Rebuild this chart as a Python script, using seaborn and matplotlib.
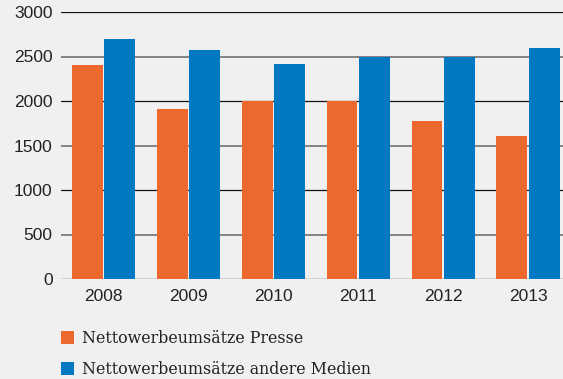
import matplotlib
matplotlib.use("Agg")
import matplotlib.pyplot as plt
from matplotlib.patches import Patch
import seaborn as sns
import pandas as pd

years = ["2008", "2009", "2010", "2011", "2012", "2013"]
presse = [2400, 1910, 2000, 2000, 1780, 1610]
andere = [2700, 2570, 2420, 2500, 2500, 2590]
series_names = ["Nettowerbeumsätze Presse", "Nettowerbeumsätze andere Medien"]
y_ticks = [0, 500, 1000, 1500, 2000, 2500, 3000]

colors = ["#ec682c", "#0079c2"]
bg = "#f0f0f0"

df = pd.DataFrame({
    "Jahr": years * 2,
    "Wert": presse + andere,
    "Serie": [series_names[0]] * len(years) + [series_names[1]] * len(years),
})

sns.set_theme(style="white")
plt.rcParams["font.family"] = ["Liberation Sans", "DejaVu Sans"]

fig = plt.figure(figsize=(5.63, 3.79), dpi=100, facecolor=bg)
ax = fig.add_axes([61 / 563, 100 / 379, 502 / 563, 267 / 379])
ax.set_facecolor(bg)

# horizontal guides: dark at thousands, grey at the half steps
for v in y_ticks:
    if v % 1000 == 0:
        ax.axhline(v, color="#111111", lw=0.9, zorder=0)
    else:
        ax.axhline(v, color="#7a7a7a", lw=1.3, zorder=0)

sns.barplot(data=df, x="Jahr", y="Wert", hue="Serie", palette=colors,
            width=0.765, gap=0.05, saturation=1, ax=ax, legend=False,
            errorbar=None, linewidth=0, zorder=2)

ax.set_xlim(-0.5, 5.41)
ax.set_ylim(0, 3000)
ax.set_yticks(y_ticks)
ax.set_yticklabels([str(v) for v in y_ticks], fontsize=12.5, color="#222222")
ax.set_xticklabels(years, fontsize=12.5, color="#222222")
ax.tick_params(axis="y", length=0, pad=6)
ax.tick_params(axis="x", length=0, pad=7)
ax.set_xlabel("")
ax.set_ylabel("")
for s in ax.spines.values():
    s.set_visible(False)

handles = [Patch(facecolor=c, edgecolor="none") for c in colors]
fig.legend(handles, series_names, loc="upper left",
           bbox_to_anchor=(61 / 563, 1 - 330 / 379), frameon=False,
           prop={"family": "DejaVu Serif", "size": 11.4},
           handlelength=0.85, handleheight=0.85, handletextpad=0.45,
           labelspacing=0.9, borderaxespad=0, borderpad=0,
           labelcolor="#222222")

fig.savefig("out.png", dpi=100, facecolor=bg)
